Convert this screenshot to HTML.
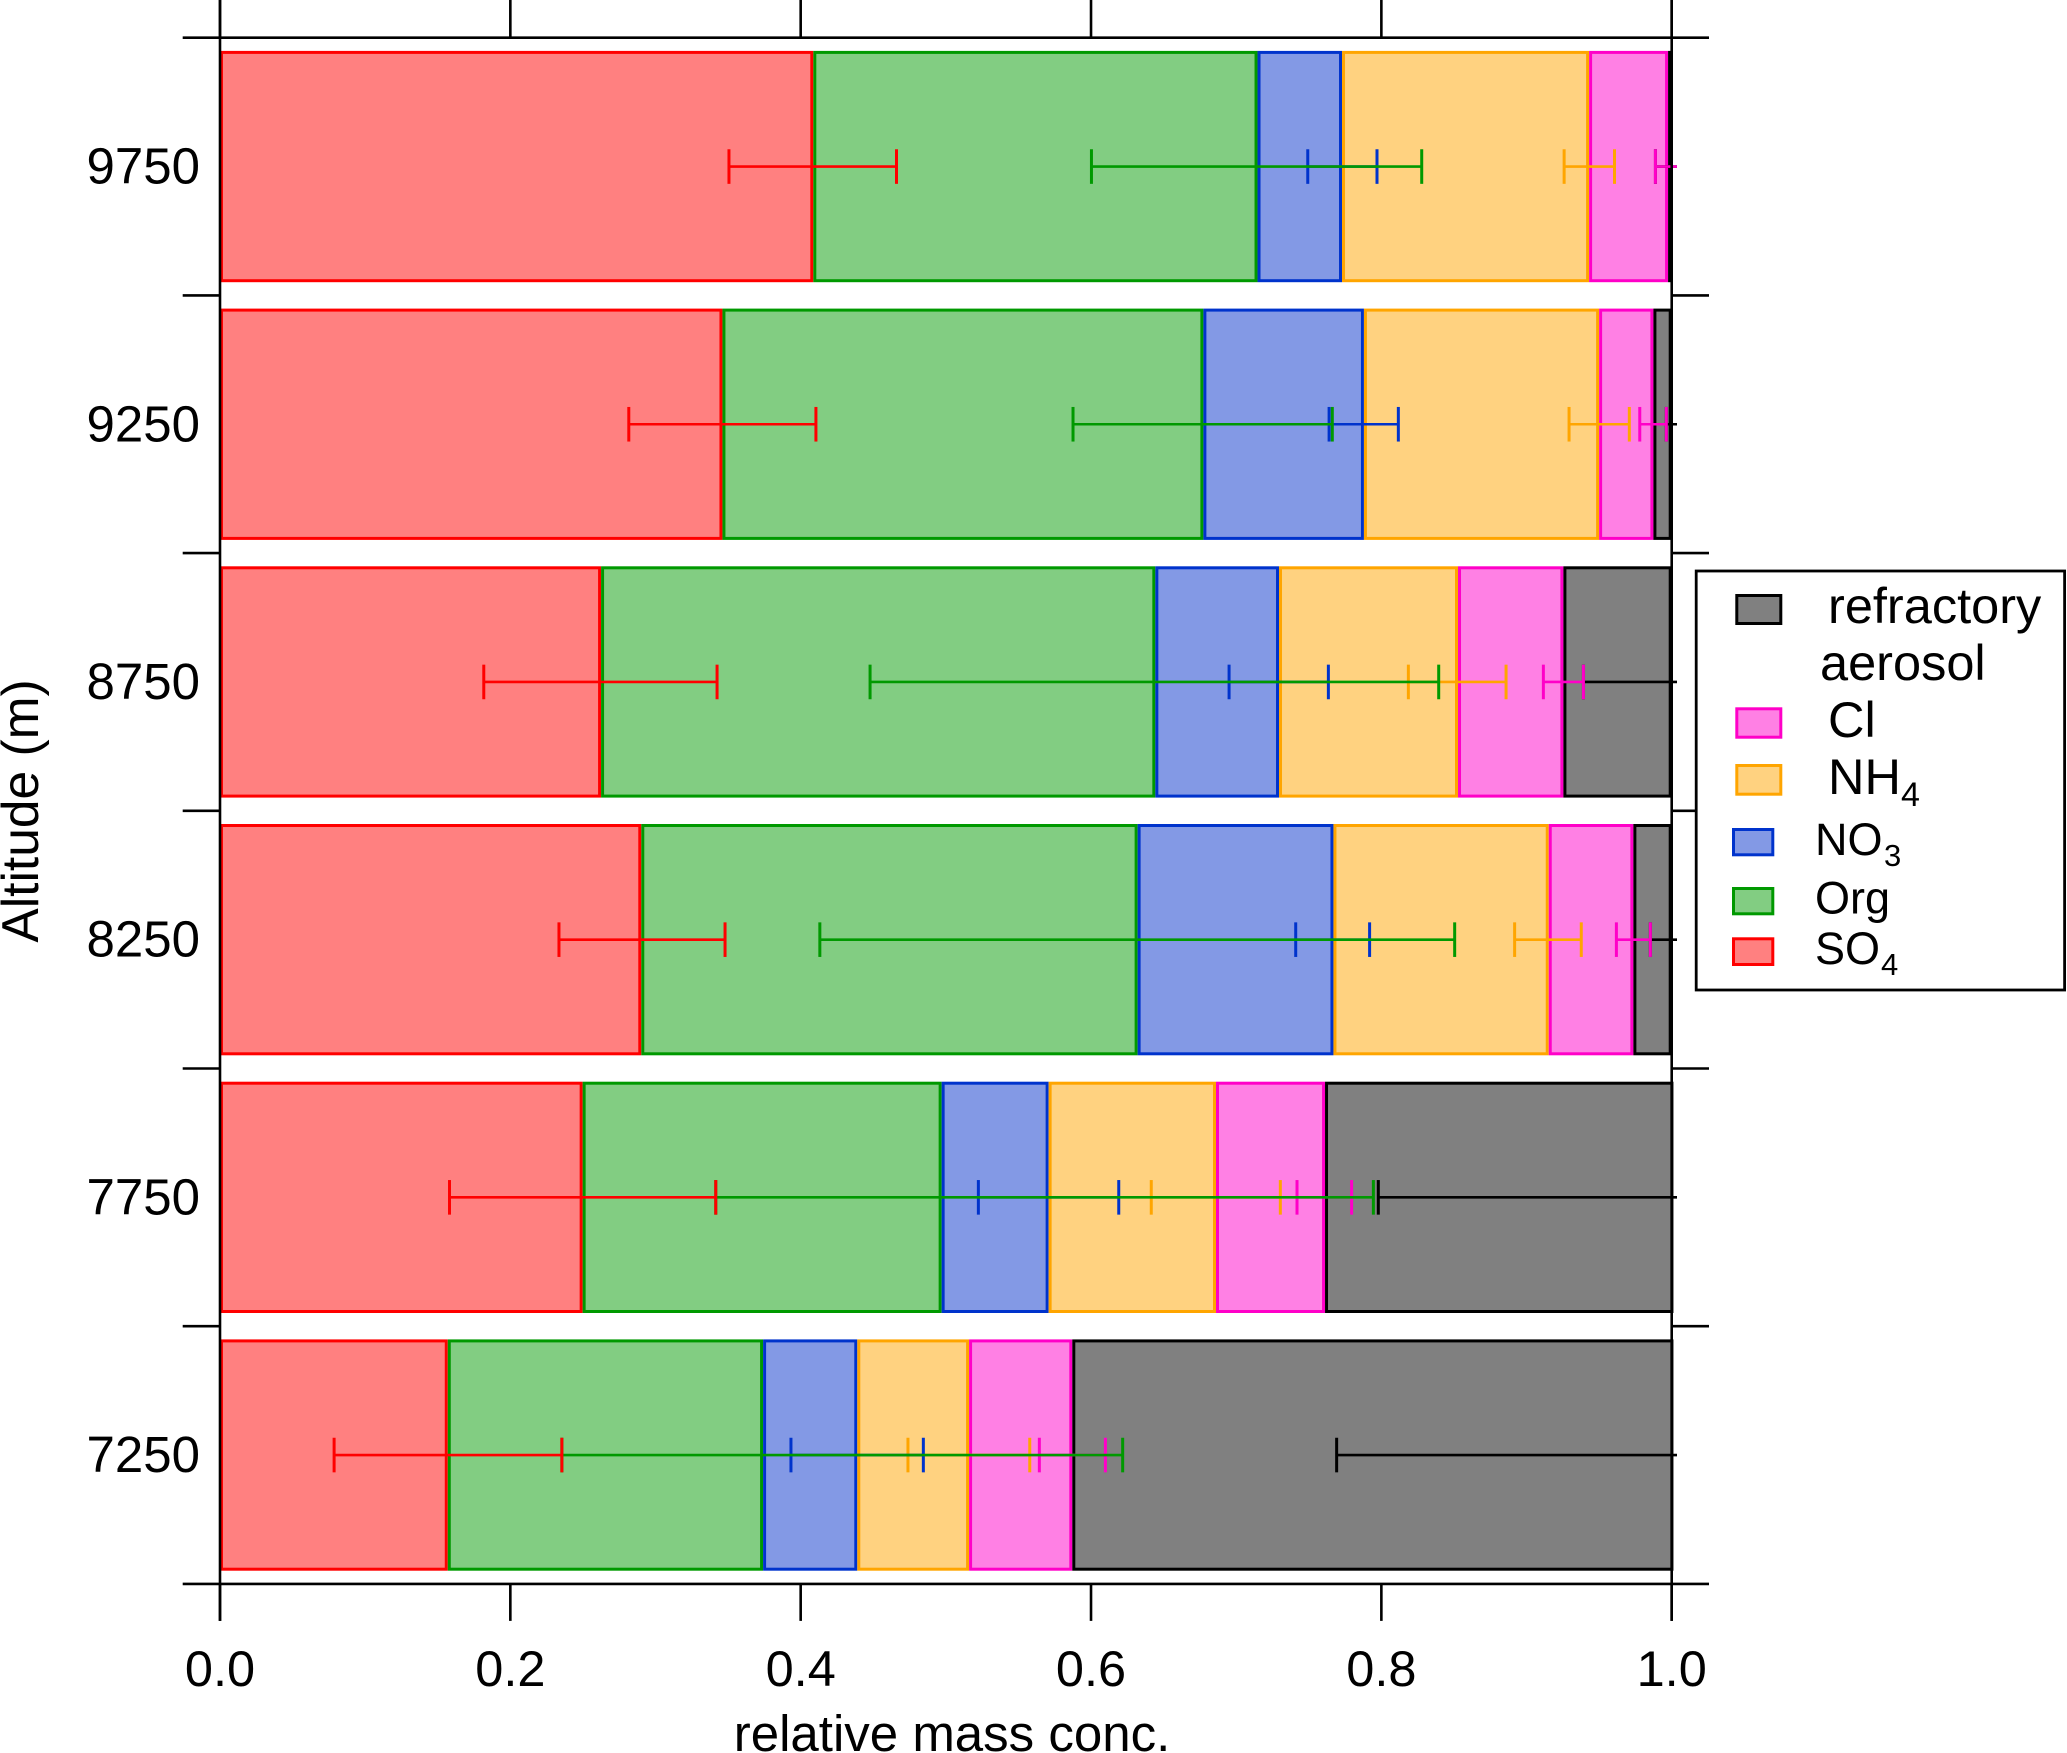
<!DOCTYPE html>
<html>
<head>
<meta charset="utf-8">
<title>Relative mass concentration by altitude</title>
<style>
html,body{margin:0;padding:0;background:#fff;width:2067px;height:1753px;overflow:hidden}
svg{display:block}
text{font-family:"Liberation Sans",Arial,sans-serif;fill:#000}
</style>
</head>
<body>
<svg id="chart" xmlns="http://www.w3.org/2000/svg" width="2067" height="1753" viewBox="0 0 2067 1753">
  <defs>
    <clipPath id="err-clip"><rect x="0" y="0" width="1677" height="1753"></rect></clipPath>
  </defs>
  <g id="bars"></g>
  <g id="errors" clip-path="url(#err-clip)"></g>
  <g id="axes"></g>
  <text x="952" y="1751" font-size="51" text-anchor="middle">relative mass conc.</text>
  <text transform="translate(38 811) rotate(-90)" font-size="51.5" text-anchor="middle">Altitude (m)</text>
  <g>
    <rect x="1696.2" y="571" width="368.4" height="419" fill="#fff" stroke="#000" stroke-width="2.8"></rect>
    <g>
      <rect x="1736.8" y="595.5" width="44" height="28" fill="#808080" stroke="#000" stroke-width="3"></rect>
      <text x="1828" y="623" font-size="50.5">refractory</text>
      <text x="1820" y="680" font-size="50.5">aerosol</text>
    </g>
    <g>
      <rect x="1736.8" y="708.8" width="44" height="28.4" fill="#ff80e4" stroke="#ff00c8" stroke-width="3"></rect>
      <text x="1828" y="737" font-size="50.5">Cl</text>
    </g>
    <g>
      <rect x="1736.8" y="765.5" width="44" height="28.7" fill="#ffd280" stroke="#ffa500" stroke-width="3"></rect>
      <text x="1828" y="794" font-size="50.5">NH</text>
      <text x="1901" y="806" font-size="34">4</text>
    </g>
    <g>
      <rect x="1733.5" y="829.5" width="39.3" height="25.3" fill="#8399e5" stroke="#0033cc" stroke-width="3"></rect>
      <text x="1815" y="855" font-size="45">NO</text>
      <text x="1884" y="866" font-size="31">3</text>
    </g>
    <g>
      <rect x="1733.5" y="888.5" width="39.3" height="25.3" fill="#82cd82" stroke="#009900" stroke-width="3"></rect>
      <text x="1815" y="913.5" font-size="45">Org</text>
    </g>
    <g>
      <rect x="1733.5" y="938.8" width="39.3" height="25.7" fill="#ff8080" stroke="#ff0000" stroke-width="3"></rect>
      <text x="1815" y="964" font-size="45">SO</text>
      <text x="1881" y="975" font-size="31">4</text>
    </g>
  </g>
</svg>
<script>
// Chart data (rows run top to bottom)
const altitudes = [9750, 9250, 8750, 8250, 7750, 7250];
const xTickValues = [0, 0.2, 0.4, 0.6, 0.8, 1.0];
const xTickLabels = ['0.0', '0.2', '0.4', '0.6', '0.8', '1.0'];

const so4 = [0.4087, 0.3461, 0.2625, 0.2902, 0.2498, 0.1569];
const org = [0.3060, 0.3313, 0.3818, 0.3419, 0.2473, 0.2172];
const no3 = [0.0582, 0.1106, 0.0852, 0.1349, 0.0737, 0.0649];
const nh4 = [0.1702, 0.1620, 0.1233, 0.1483, 0.1153, 0.0770];
const cl  = [0.0544, 0.0374, 0.0726, 0.0583, 0.0751, 0.0711];
const refractory = [0.0025, 0.0126, 0.0746, 0.0264, 0.2400, 0.4141];

const so4Low  = [0.3506, 0.2816, 0.1817, 0.2335, 0.1581, 0.0786];
const so4High = [0.4660, 0.4105, 0.3424, 0.3479, 0.3415, 0.2355];
const orgLow  = [0.6003, 0.5876, 0.4478, 0.4132, 0.3415, 0.2355];
const orgHigh = [0.8278, 0.7662, 0.8395, 0.8505, 0.7945, 0.6218];
const no3Low  = [0.7493, 0.7640, 0.6951, 0.7410, 0.5224, 0.3933];
const no3High = [0.7970, 0.8117, 0.7635, 0.7919, 0.6191, 0.4845];
const nh4Low  = [0.9259, 0.9293, 0.8186, 0.8918, 0.6415, 0.4739];
const nh4High = [0.9606, 0.9708, 0.8859, 0.9377, 0.7304, 0.5578];
const clLow   = [0.9888, 0.9780, 0.9116, 0.9619, 0.7419, 0.5644];
const clHigh  = [1.0300, 0.9963, 0.9392, 0.9853, 0.7795, 0.6099];
const refLow  = [0.9888, 0.9963, 0.9392, 0.9853, 0.7979, 0.7692];
const refHigh = [1.0300, 1.0300, 1.0800, 1.0500, 1.2000, 1.3000];

const SVGNS = 'http://www.w3.org/2000/svg';
const plotLeft = 220, plotRight = 1671.7, plotTop = 37.7, bandHeight = 257.7;
const plotBottom = plotTop + bandHeight * altitudes.length;
const xScale = v => plotLeft + v * (plotRight - plotLeft);
const bandTop = i => plotTop + bandHeight * i;
const bandMid = i => bandTop(i) + bandHeight / 2;

function make(tag, parent, attrs) {
  const node = document.createElementNS(SVGNS, tag);
  for (const k in attrs) node.setAttribute(k, attrs[k]);
  parent.appendChild(node);
  return node;
}

const barLayer = document.getElementById('bars');
const errLayer = document.getElementById('errors');
const axisLayer = document.getElementById('axes');

// Stacked bars
const stackSeries = [
  { key: 'so4', values: so4, fill: '#ff8080', stroke: '#ff0000' },
  { key: 'org', values: org, fill: '#82cd82', stroke: '#009900' },
  { key: 'no3', values: no3, fill: '#8399e5', stroke: '#0033cc' },
  { key: 'nh4', values: nh4, fill: '#ffd280', stroke: '#ffa500' },
  { key: 'cl', values: cl, fill: '#ff80e4', stroke: '#ff00c8' },
  { key: 'refractory', values: refractory, fill: '#808080', stroke: '#000000' }
];
const barInset = 13.2, barStroke = 3;
altitudes.forEach((alt, i) => {
  let cum = 0;
  stackSeries.forEach(s => {
    const x0 = xScale(cum);
    cum += s.values[i];
    const x1 = xScale(cum);
    const w = Math.max(x1 - x0 - barStroke, 0.4);
    const r = make('rect', barLayer, {
      x: x0 + barStroke / 2,
      y: bandTop(i) + barInset + barStroke / 2,
      width: w,
      height: bandHeight - 2 * barInset - barStroke,
      fill: s.fill,
      stroke: s.stroke,
      'stroke-width': barStroke
    });
    
    
  });
});

// Error bars (drawn back to front)
const errorSeries = [
  { key: 'refractory', low: refLow, high: refHigh, stroke: '#000000' },
  { key: 'cl', low: clLow, high: clHigh, stroke: '#ff00c8' },
  { key: 'nh4', low: nh4Low, high: nh4High, stroke: '#ffa500' },
  { key: 'no3', low: no3Low, high: no3High, stroke: '#0033cc' },
  { key: 'org', low: orgLow, high: orgHigh, stroke: '#009900' },
  { key: 'so4', low: so4Low, high: so4High, stroke: '#ff0000' }
];
const capHalf = 17.3;
errorSeries.forEach(s => {
  altitudes.forEach((alt, i) => {
    const y = bandMid(i), a = xScale(s.low[i]), b = xScale(s.high[i]);
    const g = make('g', errLayer, { stroke: s.stroke, 'stroke-width': 2.6, fill: 'none' });
    
    
    make('line', g, { x1: a, x2: b, y1: y, y2: y });
    make('line', g, { x1: a, x2: a, y1: y - capHalf, y2: y + capHalf, 'stroke-width': 3 });
    make('line', g, { x1: b, x2: b, y1: y - capHalf, y2: y + capHalf, 'stroke-width': 3 });
  });
});

// Axes
const axisStroke = { stroke: '#000', 'stroke-width': 2.6 };
[plotLeft, plotRight].forEach((x, n) => {
  const v = make('line', axisLayer, Object.assign({ x1: x, x2: x, y1: 0, y2: plotBottom + 37 }, axisStroke));
  
  
});
for (let i = 0; i <= altitudes.length; i++) {
  const y = bandTop(i);
  if (i === 0 || i === altitudes.length) {
    const h = make('line', axisLayer, Object.assign({ x1: plotLeft - 37.3, x2: plotRight + 37.3, y1: y, y2: y }, axisStroke));
    
    
  } else {
    const l = make('line', axisLayer, Object.assign({ x1: plotLeft - 37.3, x2: plotLeft, y1: y, y2: y }, axisStroke));
    
    
    const r = make('line', axisLayer, Object.assign({ x1: plotRight, x2: plotRight + 37.3, y1: y, y2: y }, axisStroke));
    
    
  }
}
altitudes.forEach((alt, i) => {
  const t = make('text', axisLayer, { x: 200, y: bandMid(i) + 17, 'font-size': 51, 'text-anchor': 'end' });
  t.textContent = String(alt);
  
  
});
xTickValues.forEach((v, i) => {
  const x = xScale(v);
  const top = make('line', axisLayer, Object.assign({ x1: x, x2: x, y1: 0, y2: plotTop }, axisStroke));
  
  
  const bottom = make('line', axisLayer, Object.assign({ x1: x, x2: x, y1: plotBottom, y2: plotBottom + 37 }, axisStroke));
  
  
  const t = make('text', axisLayer, { x: x, y: 1686, 'font-size': 50.5, 'text-anchor': 'middle' });
  t.textContent = xTickLabels[i];
  
  
});
</script>
</body>
</html>
